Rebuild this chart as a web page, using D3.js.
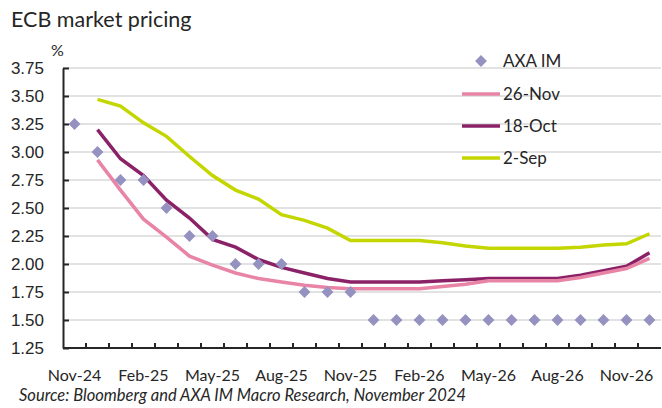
<!DOCTYPE html>
<html lang="en">
<head>
<meta charset="UTF-8">
<title>ECB market pricing</title>
<script src="https://d3js.org/d3.v7.min.js"></script>
<style>
    body { margin: 0; background: #fff; }
    svg { font-family: Lato, "Open Sans", sans-serif; }
    .grid line { stroke: #d9d9d9; stroke-width: 1.5; }
    .axis path, .axis line { stroke: #262626; stroke-width: 2; }
    .axis text { fill: #262626; font-size: 17px; }
</style>
</head>
<body>
<div id="chart"></div>
<script>
// months on the x axis
var months = ["Nov-24","Dec-24","Jan-25","Feb-25","Mar-25","Apr-25","May-25","Jun-25","Jul-25","Aug-25",
    "Sep-25","Oct-25","Nov-25","Dec-25","Jan-26","Feb-26","Mar-26","Apr-26","May-26","Jun-26",
    "Jul-26","Aug-26","Sep-26","Oct-26","Nov-26","Dec-26"];
var tickMonths = ["Nov-24","Feb-25","May-25","Aug-25","Nov-25","Feb-26","May-26","Aug-26","Nov-26"];
var yTicks = [1.25, 1.5, 1.75, 2.0, 2.25, 2.5, 2.75, 3.0, 3.25, 3.5, 3.75];

var axaIM = [3.25, 3.00, 2.75, 2.75, 2.50, 2.25, 2.25, 2.00, 2.00, 2.00, 1.75, 1.75, 1.75,
    1.50, 1.50, 1.50, 1.50, 1.50, 1.50, 1.50, 1.50, 1.50, 1.50, 1.50, 1.50, 1.50];
// market curves start in Dec-24 (null = no value)
var nov26 = [null, 2.93, 2.66, 2.40, 2.24, 2.07, 1.99, 1.92, 1.87, 1.84, 1.81, 1.79, 1.78,
    1.78, 1.78, 1.78, 1.80, 1.82, 1.85, 1.85, 1.85, 1.85, 1.88, 1.92, 1.96, 2.05];
var oct18 = [null, 3.20, 2.94, 2.79, 2.57, 2.41, 2.22, 2.15, 2.04, 1.97, 1.92, 1.87, 1.84,
    1.84, 1.84, 1.84, 1.85, 1.86, 1.87, 1.87, 1.87, 1.87, 1.90, 1.94, 1.98, 2.10];
var sep2 = [null, 3.47, 3.41, 3.26, 3.14, 2.96, 2.79, 2.66, 2.58, 2.44, 2.39, 2.32, 2.21,
    2.21, 2.21, 2.21, 2.19, 2.16, 2.14, 2.14, 2.14, 2.14, 2.15, 2.17, 2.18, 2.27];

var lines = [
    {name: "26-Nov", values: nov26, color: "#e884a6"},
    {name: "18-Oct", values: oct18, color: "#8b2268"},
    {name: "2-Sep", values: sep2, color: "#c4d600"}
];
var diamondColor = "#9591c0";

var width = 662, height = 408;
var margin = {top: 68, right: 1, bottom: 60, left: 63};

var svg = d3.select("#chart").append("svg")
    .attr("width", width)
    .attr("height", height);

var x = d3.scaleBand()
    .domain(months)
    .range([margin.left, width - margin.right]);

var y = d3.scaleLinear()
    .domain([1.25, 3.75])
    .range([height - margin.bottom, margin.top]);

// title
svg.append("text")
    .attr("x", 11)
    .attr("y", 27)
    .style("font-size", "21.5px")
    .style("fill", "#262626")
    .text("ECB market pricing");

svg.append("text")
    .attr("x", 51)
    .attr("y", 56)
    .style("font-size", "16px")
    .style("fill", "#262626")
    .text("%");

// gridlines
svg.append("g")
    .attr("class", "grid")
    .selectAll("line")
    .data(yTicks.slice(1))
    .enter().append("line")
    .attr("x1", margin.left)
    .attr("x2", width - margin.right)
    .attr("y1", function(d) { return y(d); })
    .attr("y2", function(d) { return y(d); });

// y axis
var yAxis = svg.append("g")
    .attr("class", "axis")
    .attr("transform", "translate(" + margin.left + ",0)")
    .call(d3.axisRight(y).tickValues(yTicks).tickFormat(d3.format(".2f")).tickSize(6).tickSizeOuter(0));
yAxis.selectAll("text").attr("x", -19).attr("text-anchor", "end");

// x axis: ticks on band edges, labels on selected months
var xAxisG = svg.append("g")
    .attr("class", "axis")
    .attr("transform", "translate(0," + y(1.25) + ")");
xAxisG.append("path")
    .attr("d", "M" + margin.left + ",0H" + (width - margin.right));
xAxisG.selectAll("line")
    .data(months.slice(1))
    .enter().append("line")
    .attr("x1", function(d) { return x(d); })
    .attr("x2", function(d) { return x(d); })
    .attr("y1", 0)
    .attr("y2", -5);
xAxisG.selectAll("text")
    .data(tickMonths)
    .enter().append("text")
    .attr("x", function(d) { return x(d) + x.bandwidth() / 2; })
    .attr("y", 32.5)
    .attr("text-anchor", "middle")
    .style("font-size", "16px")
    .text(function(d) { return d; });

var cx = function(i) { return x(months[i]) + x.bandwidth() / 2; };

var line = d3.line()
    .defined(function(d) { return d != null; })
    .x(function(d, i) { return cx(i); })
    .y(function(d) { return y(d); });

// draw lines, 2-Sep at the back
svg.selectAll(".series")
    .data(lines.slice().reverse())
    .enter().append("path")
    .attr("class", "series")
    .attr("d", function(d) { return line(d.values); })
    .style("fill", "none")
    .style("stroke", function(d) { return d.color; })
    .style("stroke-width", 3.5);

var diamond = d3.symbol().type(d3.symbolSquare).size(70);
svg.selectAll(".axa")
    .data(axaIM)
    .enter().append("path")
    .attr("class", "axa")
    .attr("d", diamond)
    .attr("transform", function(d, i) { return "translate(" + cx(i) + "," + y(d) + ") rotate(45)"; })
    .style("fill", diamondColor);

// legend
var legend = svg.append("g").attr("transform", "translate(462,0)");
legend.append("path")
    .attr("d", diamond)
    .attr("transform", "translate(19,61) rotate(45)")
    .style("fill", diamondColor);
legend.append("text")
    .attr("x", 41)
    .attr("y", 67)
    .style("font-size", "17px")
    .style("fill", "#262626")
    .text("AXA IM");
lines.forEach(function(s, i) {
    var ly = 94 + i * 32;
    legend.append("line")
        .attr("x1", 0).attr("x2", 38)
        .attr("y1", ly).attr("y2", ly)
        .style("stroke", s.color)
        .style("stroke-width", 3.5);
    legend.append("text")
        .attr("x", 41)
        .attr("y", ly + 6)
        .style("font-size", "17px")
        .style("fill", "#262626")
        .text(s.name);
});

// source
svg.append("text")
    .attr("x", 19)
    .attr("y", 401)
    .style("font-size", "16.5px")
    .style("font-style", "italic")
    .style("fill", "#262626")
    .text("Source: Bloomberg and AXA IM Macro Research, November 2024");
</script>
</body>
</html>
